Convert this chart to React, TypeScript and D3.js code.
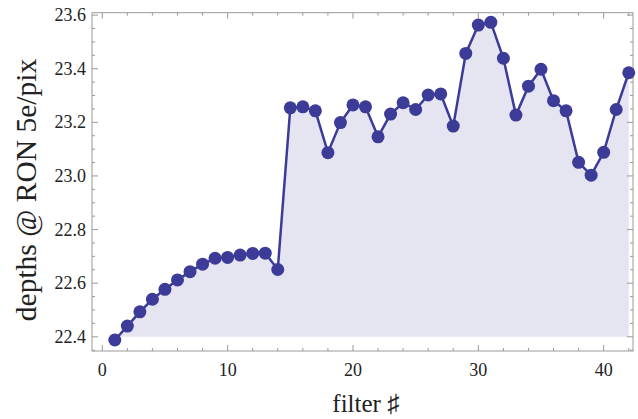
import React from "react";
import * as d3 from "d3";

const filters: number[] = Array.from({ length: 42 }, (_, i) => i + 1);
const depths: number[] = [
  22.388, 22.44, 22.493, 22.54, 22.577, 22.612, 22.643, 22.671, 22.693, 22.696,
  22.705, 22.711, 22.712, 22.651, 23.254, 23.258, 23.243, 23.087, 23.199, 23.265,
  23.258, 23.146, 23.231, 23.273, 23.248, 23.302, 23.306, 23.186, 23.457, 23.563,
  23.573, 23.439, 23.227, 23.335, 23.398, 23.281, 23.243, 23.051, 23.003, 23.088,
  23.248, 23.385,
];
const xTicks: number[] = [0, 10, 20, 30, 40];
const yTicks: number[] = [22.4, 22.6, 22.8, 23.0, 23.2, 23.4, 23.6];
const fillBase = 22.4;

export default function App() {
  const W = 638, H = 419;
  const left = 92, right = 633, top = 12.7, bottom = 351;
  const x = d3.scaleLinear().domain([-0.82, 42.34]).range([left, right]);
  const y = d3.scaleLinear().domain([22.347, 23.609]).range([bottom, top]);
  const data = filters.map((f, i) => ({ f, v: depths[i] }));
  const line = d3.line<{ f: number; v: number }>().x(d => x(d.f)).y(d => y(d.v));
  const area = d3.area<{ f: number; v: number }>().x(d => x(d.f)).y0(y(fillBase)).y1(d => y(d.v));
  const xMinor = d3.range(0, 43, 2).filter(t => t % 10 !== 0);
  const yMinor = d3.range(22.35, 23.61, 0.05).filter(t => Math.abs(Math.round(t * 5) - t * 5) > 0.01);
  const frame = "#9a9a9a";
  const blue = "#3c3c98";
  const font = "'Liberation Serif', 'Times New Roman', serif";
  return (
    <svg width={W} height={H} style={{ position: "absolute", left: 0, top: 0 }}>
      <rect width={W} height={H} fill="#fff" />
      <path d={area(data) || ""} fill="#e5e4f1" />
      <rect x={left} y={top} width={right - left} height={bottom - top} fill="none" stroke={frame} strokeWidth={1} />
      {xTicks.map(t => (
        <g key={"xt" + t}>
          <line x1={x(t)} x2={x(t)} y1={bottom} y2={bottom - 6} stroke={frame} />
          <line x1={x(t)} x2={x(t)} y1={top} y2={top + 6} stroke={frame} />
          <text x={x(t)} y={376} textAnchor="middle" fontFamily={font} fontSize={18} fill="#222">{t}</text>
        </g>
      ))}
      {xMinor.map(t => (
        <g key={"xm" + t}>
          <line x1={x(t)} x2={x(t)} y1={bottom} y2={bottom - 3} stroke={frame} />
          <line x1={x(t)} x2={x(t)} y1={top} y2={top + 3} stroke={frame} />
        </g>
      ))}
      {yTicks.map(t => (
        <g key={"yt" + t}>
          <line x1={left} x2={left + 6} y1={y(t)} y2={y(t)} stroke={frame} />
          <line x1={right} x2={right - 6} y1={y(t)} y2={y(t)} stroke={frame} />
          <text x={86} y={y(t) + 6} textAnchor="end" fontFamily={font} fontSize={18} fill="#222">{t.toFixed(1)}</text>
        </g>
      ))}
      {yMinor.map(t => (
        <g key={"ym" + t.toFixed(2)}>
          <line x1={left} x2={left + 3} y1={y(t)} y2={y(t)} stroke={frame} />
          <line x1={right} x2={right - 3} y1={y(t)} y2={y(t)} stroke={frame} />
        </g>
      ))}
      <path d={line(data) || ""} fill="none" stroke={blue} strokeWidth={2.5} />
      {data.map(d => (
        <circle key={"p" + d.f} cx={x(d.f)} cy={y(d.v)} r={6.5} fill={blue} />
      ))}
      <text x={366} y={412} textAnchor="middle" fontFamily={font} fontSize={25} fill="#222">filter ♯</text>
      <text transform={`translate(36, 190) rotate(-90)`} textAnchor="middle" fontFamily={font} fontSize={29.5} fill="#222">depths @ RON 5e/pix</text>
    </svg>
  );
}
